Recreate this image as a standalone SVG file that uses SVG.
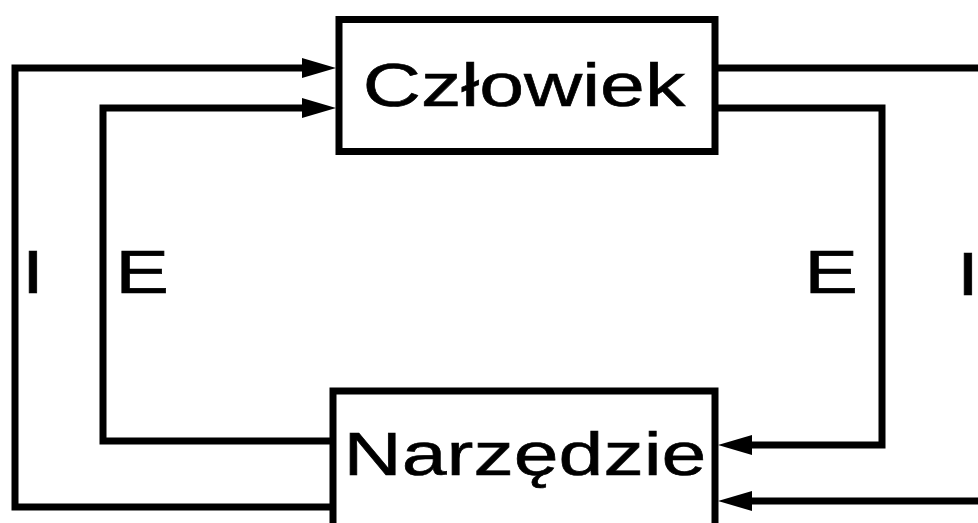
<svg xmlns="http://www.w3.org/2000/svg" width="978" height="523" viewBox="0 0 978 523">
<style>
.box{fill:#fff;stroke:#000;stroke-width:7}
.ln{fill:none;stroke:#000;stroke-width:7;stroke-linejoin:miter}
.ah{fill:#000;stroke:none}
.t{font-family:"Liberation Sans",Arial,sans-serif;font-size:62px;fill:#000;text-anchor:middle;stroke:#000;stroke-width:0.6}
</style>
<defs>
<path id="ahr" class="ah" d="M0,0 L-34,-10 L-34,10 z"/>
<path id="ahl" class="ah" d="M0,0 L34,-10 L34,10 z"/>
</defs>
<g id="connectors">
<path class="ln" d="M333,507 H15 V68 H305"/>
<use href="#ahr" x="336" y="68"/>
<path class="ln" d="M333,441 H103 V108 H305"/>
<use href="#ahr" x="336" y="108"/>
<path class="ln" d="M718,108 H882 V445 H745"/>
<use href="#ahl" x="718" y="445"/>
<path class="ln" d="M718,68 H980"/>
<path class="ln" d="M980,501 H745"/>
<use href="#ahl" x="718" y="501"/>
</g>
<g id="czlowiek">
<rect class="box" x="339" y="19.5" width="376" height="132"/>
<text class="t" transform="translate(524,106) scale(1.3,1)">Człowiek</text>
</g>
<g id="narzedzie">
<rect class="box" x="333" y="391" width="382" height="145"/>
<text class="t" transform="translate(525,475) scale(1.3,1)">Narzędzie</text>
</g>
<g id="labels">
<text class="t" transform="translate(33,293) scale(1.3,1)">I</text>
<text class="t" transform="translate(142,293) scale(1.3,1)">E</text>
<text class="t" transform="translate(831,293) scale(1.3,1)">E</text>
<text class="t" transform="translate(968,295) scale(1.3,1)">I</text>
</g>
</svg>
